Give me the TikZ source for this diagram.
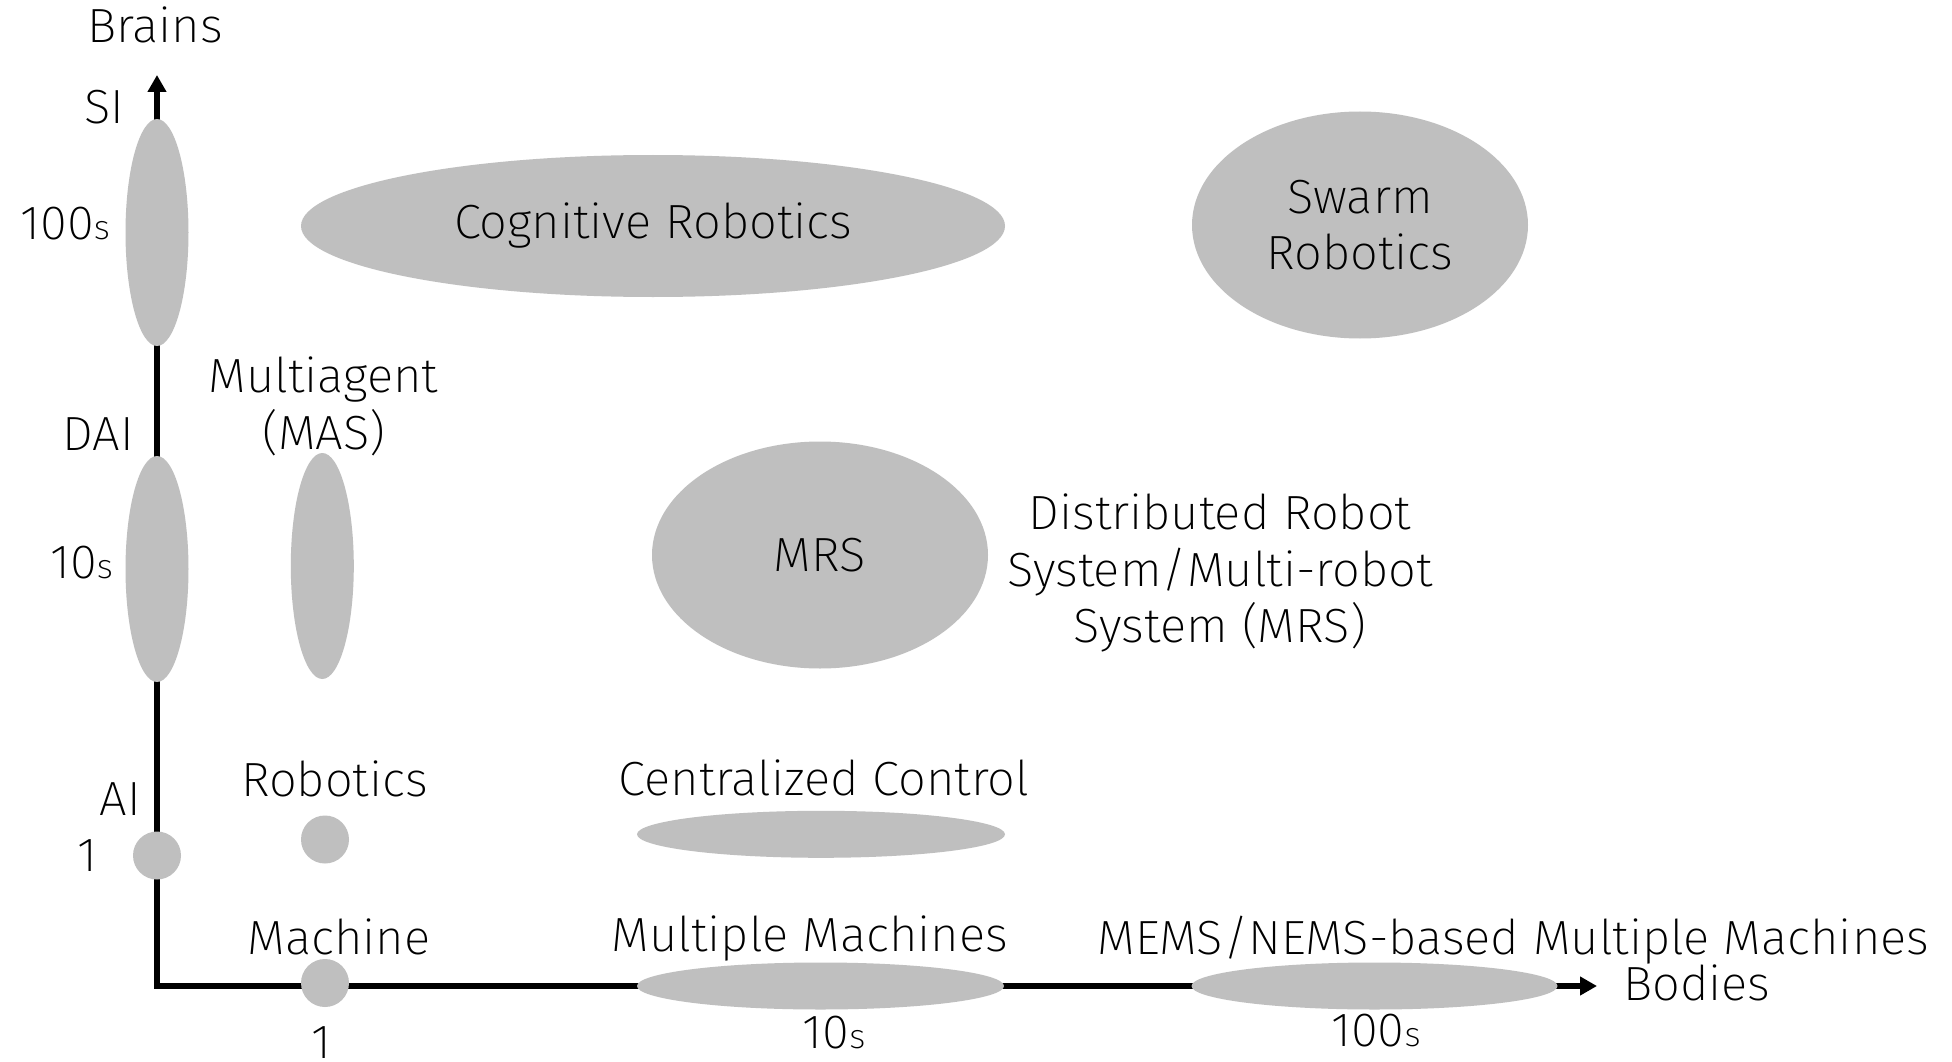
\documentclass[tikz,border=0pt]{standalone}
\usepackage{fontspec}
\IfFontExistsTF{Fira Sans ExtraLight}
  {\setmainfont{Fira Sans ExtraLight}[FakeStretch=1.02]}
  {\setmainfont{Fira Sans Light}[FakeStretch=1.02]}
\usetikzlibrary{shapes.geometric,arrows.meta}
\definecolor{shade}{RGB}{191,191,191}
\newcommand\lblfont{\fontsize{48}{56.7}\selectfont}
\newcommand\smalls{{\fontsize{34}{40}\selectfont s}}
\begin{document}
\begin{tikzpicture}[x=1pt,y=-1pt,
  blob/.style={ellipse, fill=shade, draw=none, inner sep=0pt, outer sep=0pt, align=center, font=\lblfont},
  txt/.style={inner sep=0pt, outer sep=0pt, align=center, font=\lblfont},
  axistip/.tip={Triangle[length=17pt,width=18pt]}]
\useasboundingbox (0,0) rectangle (1952,1062);
\fill[white] (0,0) rectangle (1952,1062);

% axes
\coordinate (O) at (157,986);
\coordinate (Ytip) at (157,75);
\coordinate (Xtip) at (1597,986);
\draw[line width=6pt, axistip-axistip] (Ytip) -- (O) -- (Xtip);

% shapes on the brains axis
\node[blob, minimum width=63pt, minimum height=227pt] (si) at (157,232.5) {};
\node[blob, minimum width=63pt, minimum height=226pt] (dai) at (157,569) {};
\node[blob, minimum size=48pt] (ai) at (157,855.5) {};

% shapes in the plane
\node[blob, minimum width=63pt, minimum height=226pt] (mas) at (322.3,566) {};
\node[blob, minimum size=48pt] (rob) at (325,839.5) {};
\node[blob, minimum size=48pt] (mach) at (325,983) {};
\node[blob, minimum width=704pt, minimum height=142pt] (cog) at (653,226) {Cognitive Robotics};
\node[blob, minimum width=336pt, minimum height=227pt] (swarm) at (1360,225) {Swarm\\Robotics};
\node[blob, minimum width=336pt, minimum height=227pt] (mrs) at (820,555) {MRS};
\node[blob, minimum width=368pt, minimum height=47pt] (cent) at (821,834.3) {};
\node[blob, minimum width=367pt, minimum height=47pt] (multi) at (820.5,986) {};
\node[blob, minimum width=366pt, minimum height=47pt] (mems) at (1374.5,986) {};

% axis labels
\node[txt, anchor=base] (brains) at (155,43) {Brains};
\node[txt, anchor=base east] (lsi) at (124,124) {SI};
\node[txt, anchor=base east] (l100) at (110,239) {100\smalls};
\node[txt, anchor=base east] (ldai) at (134,450) {DAI};
\node[txt, anchor=base east] (l10) at (113,578) {10\smalls};
\node[txt, anchor=base east] (lai) at (141,815) {AI};
\node[txt, anchor=base] (lone) at (87,871) {1};
\node[txt, anchor=base] (bodies) at (1697,1000) {Bodies};
\node[txt, anchor=base] (bone) at (321,1058) {1};
\node[txt, anchor=base] (bten) at (834,1048) {10\smalls};
\node[txt, anchor=base] (bhund) at (1376,1046.7) {100\smalls};

% captions
\node[txt, anchor=base] (lmas) at (323.5,392.7) {Multiagent};
\node[txt, anchor=base] (lmas2) at (324,449) {(MAS)};
\node[txt, anchor=base] (lrob) at (334.5,796.7) {Robotics};
\node[txt, anchor=base] (lmach) at (339,954) {Machine};
\node[txt, anchor=base] (lcent) at (824,795) {Centralized Control};
\node[txt, anchor=base] (lmulti) at (810,951.7) {Multiple Machines};
\node[txt, anchor=base] (lmems) at (1513.5,954) {MEMS/NEMS-based Multiple Machines};
% a multi-line node sits on the baseline of its last line
\node[txt, anchor=base] (ldist) at (1220,642.7) {Distributed Robot\\System/Multi-robot\\System (MRS)};
\end{tikzpicture}
\end{document}
